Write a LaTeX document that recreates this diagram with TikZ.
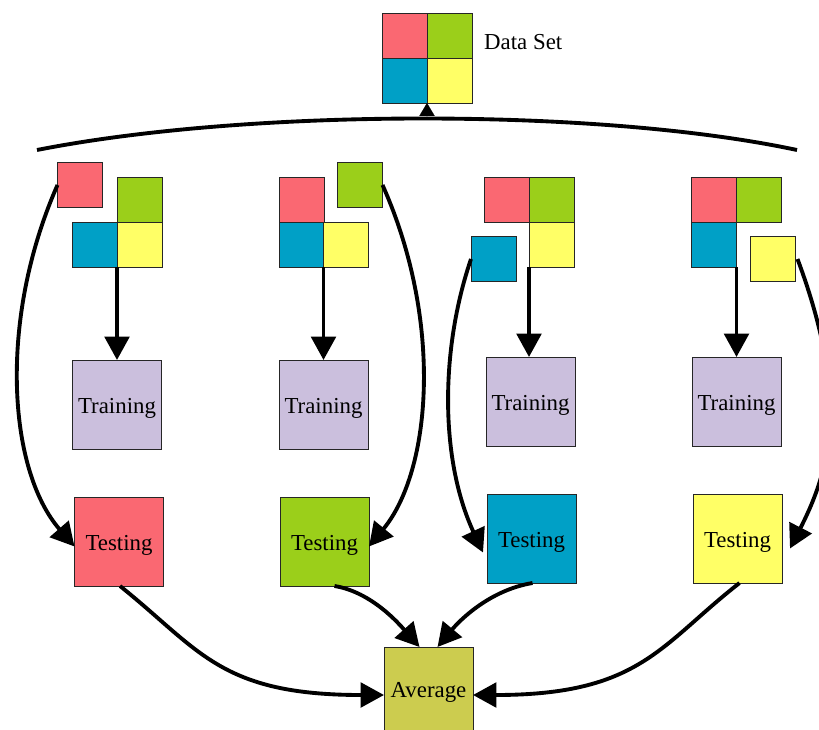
\documentclass[tikz,border=0pt]{standalone}
\usepackage{fontspec}
\setmainfont{Liberation Serif}
\usetikzlibrary{arrows.meta}
\definecolor{cred}{HTML}{FA6872}
\definecolor{cgreen}{HTML}{9BCF1A}
\definecolor{cblue}{HTML}{00A0C6}
\definecolor{cyellow}{HTML}{FFFF66}
\definecolor{cpurple}{HTML}{CBBFDD}
\definecolor{cavg}{HTML}{CCCC4F}
\tikzset{
  sq/.style={draw=black!85, line width=0.6pt, minimum size=1.35cm, inner sep=0pt, outer sep=0pt},
  bigbox/.style={draw=black!85, line width=0.6pt, minimum size=2.67cm, inner sep=0pt, outer sep=0pt, font=\fontsize{19.5}{22}\selectfont},
  lowtext/.style={text height=14.5pt, text depth=0pt},
  arr/.style={line width=3.3pt, -{Triangle[length=20pt,width=21pt]}},
}
\begin{document}
\begin{tikzpicture}[x=0.03cm,y=-0.03cm]
\useasboundingbox (0,0) rectangle (819,729);
\clip (0,0) rectangle (819,729);
% data set
\node[sq,fill=cred] (dr) at (404.5,35.5) {};
\node[sq,fill=cgreen] (dg) at (449.5,35.5) {};
\node[sq,fill=cblue] (db) at (404.5,80.5) {};
\node[sq,fill=cyellow] (dy) at (449.5,80.5) {};
\node[anchor=west,font=\fontsize{19.5}{22}\selectfont,inner sep=0pt] (dslabel) at (484,42) {Data Set};
% arc
\coordinate (al) at (37,150);
\coordinate (ar) at (797,150);
\coordinate (am) at (427,118);
\draw[line width=3.3pt] (al) .. controls (250,108) and (600,108) .. (ar);
\draw[line width=0.1pt,-{Triangle[length=11pt,width=13pt]}] (am) -- (db.south east);

% column 1
\node[sq,fill=cred] (r1) at (80,185) {};
\node[sq,fill=cgreen] (g1) at (139.5,200) {};
\node[sq,fill=cblue] (b1) at (95,244.5) {};
\node[sq,fill=cyellow] (y1) at (139.5,244.5) {};
\node[bigbox,lowtext,fill=cpurple] (tr1) at (117,404.5) {Training};
\node[bigbox,lowtext,fill=cred] (te1) at (119,541.5) {Testing};
% column 2
\node[sq,fill=cred] (r2) at (301.5,200) {};
\node[sq,fill=cblue] (b2) at (301.5,244.5) {};
\node[sq,fill=cyellow] (y2) at (346,244.5) {};
\node[sq,fill=cgreen] (g2) at (360,185) {};
\node[bigbox,lowtext,fill=cpurple] (tr2) at (323.5,404.5) {Training};
\node[bigbox,lowtext,fill=cgreen] (te2) at (324.5,541.5) {Testing};
% column 3
\node[sq,fill=cred] (r3) at (507,200) {};
\node[sq,fill=cgreen] (g3) at (551.5,200) {};
\node[sq,fill=cyellow] (y3) at (551.5,244.5) {};
\node[sq,fill=cblue] (b3) at (493.5,259) {};
\node[bigbox,lowtext,fill=cpurple] (tr3) at (530.5,401.5) {Training};
\node[bigbox,lowtext,fill=cblue] (te3) at (531.5,538.5) {Testing};
% column 4
\node[sq,fill=cred] (r4) at (714,200) {};
\node[sq,fill=cgreen] (g4) at (758.5,200) {};
\node[sq,fill=cblue] (b4) at (714,244.5) {};
\node[sq,fill=cyellow] (y4) at (773,259) {};
\node[bigbox,lowtext,fill=cpurple] (tr4) at (736.5,401.5) {Training};
\node[bigbox,lowtext,fill=cyellow] (te4) at (737.5,538.5) {Testing};
% average
\node[bigbox,fill=cavg,minimum height=2.7cm] (avg) at (428.5,692) {Average};

% training arrows
\draw[arr] (y1.south west) -- (y1.south west |- tr1.north);
\draw[arr] (y2.south west) -- (y2.south west |- tr2.north);
\draw[arr] (y3.south west) -- (y3.south west |- tr3.north);
\draw[arr] (b4.south east) -- (b4.south east |- tr4.north);

% testing arrows
\draw[arr] (r1.west) .. controls (-2,320) and (8,470) .. ([yshift=-5*0.03cm]te1.west);
\draw[arr] (g2.east) .. controls (443,320) and (432,470) .. ([yshift=-5*0.03cm]te2.east);
\draw[arr] (b3.west) .. controls (440,350) and (440,460) .. ([xshift=-4*0.03cm,yshift=-14*0.03cm]te3.west);
\draw[arr] ([xshift=2*0.03cm]y4.east) .. controls (850,400) and (830,470) .. ([xshift=8*0.03cm,yshift=-10*0.03cm]te4.east);

% average arrows
\draw[arr] ([xshift=1*0.03cm]te1.south) .. controls (200,650) and (220,695) .. ([yshift=-3*0.03cm]avg.west);
\draw[arr] ([xshift=10*0.03cm]te2.south) .. controls (372,592) and (400,625) .. ([xshift=-9*0.03cm]avg.north);
\draw[arr] ([xshift=1*0.03cm]te3.south) .. controls (490,590) and (460,620) .. ([xshift=9*0.03cm]avg.north);
\draw[arr] ([xshift=2*0.03cm]te4.south) .. controls (660,645) and (640,695) .. ([yshift=-3*0.03cm]avg.east);
\end{tikzpicture}
\end{document}
